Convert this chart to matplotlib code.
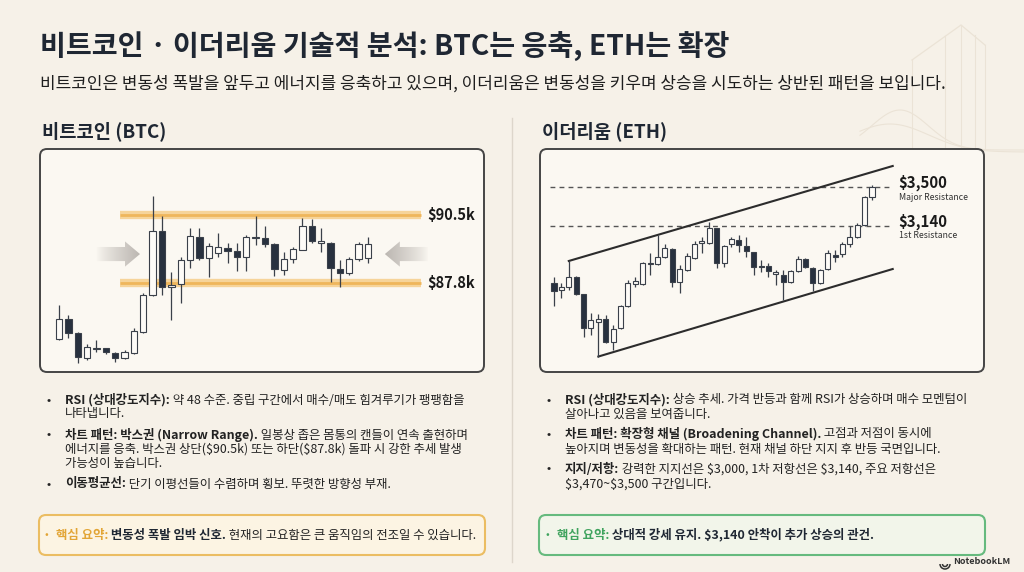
import matplotlib
matplotlib.use("Agg")
import numpy as np
import matplotlib.pyplot as plt
from matplotlib.patches import FancyBboxPatch, Polygon, Arc

FONT = ["Noto Sans CJK KR", "DejaVu Sans"]
plt.rcParams["font.family"] = FONT

W, H = 1024, 572
BG = "#f6f1e8"
PANEL = "#fbf8f2"
INK = "#1f2733"
DARK = "#28313f"
HOLLOW = "#fdfbf7"
EDGE = "#3a404a"
DECO = "#ebe3d6"

# ---- BTC daily candles (price in $k) ----
btc_open = [85.58, 86.37, 85.82, 84.82, 85.18, 85.22, 85.02, 84.82, 85.02, 85.85,
            87.32, 89.86, 87.64, 87.76, 88.71, 89.63, 88.79, 88.99, 89.19, 89.07,
            88.83, 89.59, 89.59, 89.35, 88.32, 88.75, 89.11, 90.06, 89.39, 89.39,
            88.36, 88.20, 88.75, 88.79]
btc_high = [86.93, 86.53, 85.85, 85.38, 85.54, 85.23, 85.06, 85.14, 86.01, 87.40,
            91.25, 90.46, 88.24, 88.83, 89.98, 89.98, 89.39, 89.79, 89.39, 89.39,
            89.71, 90.46, 90.06, 89.37, 89.03, 89.23, 90.38, 90.34, 89.98, 89.41,
            88.71, 88.83, 89.43, 89.63]
btc_low = [85.55, 85.62, 84.62, 84.74, 85.06, 84.98, 84.66, 84.78, 85.00, 85.83,
           87.30, 87.32, 86.33, 87.01, 88.40, 88.71, 88.04, 88.83, 88.59, 88.28,
           88.28, 89.31, 89.23, 88.08, 88.12, 88.59, 89.10, 89.39, 89.03, 87.84,
           87.64, 88.12, 88.67, 88.59]
btc_close = [86.37, 85.82, 84.86, 85.26, 85.22, 85.06, 84.82, 85.06, 85.89, 87.32,
             89.86, 87.64, 87.72, 88.71, 89.67, 88.79, 89.27, 89.23, 89.07, 88.83,
             89.63, 89.63, 89.35, 88.36, 88.75, 89.15, 90.06, 89.47, 89.47, 88.40,
             88.20, 88.75, 89.35, 89.35]
btc_box_top = 90.5
btc_box_bottom = 87.8
btc_box_labels = ["$90.5k", "$87.8k"]

# ---- ETH daily candles (price in $) ----
eth_open = [2614, 2549, 2577, 2669, 2512, 2199, 2254, 2282, 2069, 2199,
            2402, 2605, 2605, 2789, 2789, 2854, 2928, 2623, 2734, 2845,
            2983, 2983, 3122, 2798, 2974, 3011, 2955, 2900, 2771, 2771,
            2697, 2688, 2623, 2725, 2835, 2752, 2614, 2743, 2872, 2882,
            2974, 3038, 3149, 3408]
eth_high = [2669, 2614, 2817, 2678, 2515, 2337, 2328, 2319, 2226, 2411,
            2642, 2669, 2808, 2891, 3057, 2974, 2937, 2780, 2891, 3002,
            3038, 3177, 3125, 2965, 3038, 3057, 3038, 2903, 2826, 2798,
            2734, 2734, 2734, 2863, 2845, 2762, 2743, 2918, 2918, 2992,
            3140, 3168, 3417, 3518]
eth_low = [2402, 2475, 2549, 2503, 2115, 2134, 1931, 2060, 1995, 2189,
           2392, 2577, 2595, 2688, 2780, 2845, 2577, 2522, 2725, 2835,
           2891, 2974, 2752, 2762, 2946, 2900, 2854, 2688, 2715, 2669,
           2595, 2457, 2614, 2715, 2752, 2540, 2605, 2734, 2808, 2854,
           2946, 3029, 3140, 3380]
eth_close = [2540, 2577, 2669, 2512, 2199, 2272, 2282, 2069, 2189, 2402,
             2614, 2632, 2798, 2798, 2854, 2937, 2623, 2743, 2863, 2974,
             3002, 3122, 2798, 2955, 3020, 2965, 2909, 2762, 2762, 2725,
             2715, 2623, 2725, 2835, 2762, 2614, 2734, 2891, 2854, 2974,
             3038, 3149, 3408, 3500]
eth_levels = [3500, 3140]
eth_level_labels = ["$3,500", "$3,140"]
eth_level_notes = ["Major Resistance", "1st Resistance"]
# channel trendlines: (candle index, price)
eth_channel_upper = [(2, 2817), (45.8, 3694)]
eth_channel_lower = [(6, 1935), (45.8, 2743)]

title = "비트코인 · 이더리움 기술적 분석: BTC는 응축, ETH는 확장"
subtitle = ("비트코인은 변동성 폭발을 앞두고 에너지를 응축하고 있으며, "
            "이더리움은 변동성을 키우며 상승을 시도하는 상반된 패턴을 보입니다.")

btc_bullets = [
    [[("RSI (상대강도지수):", "bold"), (" 약 48 수준. 중립 구간에서 매수/매도 힘겨루기가 팽팽함을", "normal")],
     [("나타냅니다.", "normal")]],
    [[("차트 패턴: 박스권 (Narrow Range).", "bold"), (" 일봉상 좁은 몸통의 캔들이 연속 출현하며", "normal")],
     [("에너지를 응축. 박스권 상단($90.5k) 또는 하단($87.8k) 돌파 시 강한 추세 발생", "normal")],
     [("가능성이 높습니다.", "normal")]],
    [[("이동평균선:", "bold"), (" 단기 이평선들이 수렴하며 횡보. 뚜렷한 방향성 부재.", "normal")]],
]
eth_bullets = [
    [[("RSI (상대강도지수):", "bold"), (" 상승 추세. 가격 반등과 함께 RSI가 상승하며 매수 모멘텀이", "normal")],
     [("살아나고 있음을 보여줍니다.", "normal")]],
    [[("차트 패턴: 확장형 채널 (Broadening Channel).", "bold"), (" 고점과 저점이 동시에", "normal")],
     [("높아지며 변동성을 확대하는 패턴. 현재 채널 하단 지지 후 반등 국면입니다.", "normal")]],
    [[("지지/저항:", "bold"), (" 강력한 지지선은 $3,000, 1차 저항선은 $3,140, 주요 저항선은", "normal")],
     [("$3,470~$3,500 구간입니다.", "normal")]],
]
btc_summary = [("핵심 요약:", "bold", "#e2a536"), (" 변동성 폭발 임박 신호.", "bold", INK),
               (" 현재의 고요함은 큰 움직임의 전조일 수 있습니다.", "normal", "#222222")]
eth_summary = [("핵심 요약:", "bold", "#3fa35e"), (" 상대적 강세 유지. $3,140 안착이 추가 상승의 관건.", "bold", INK)]


fig = plt.figure(figsize=(W / 100, H / 100), dpi=100)
fig.patch.set_facecolor(BG)
bg = fig.add_axes([0, 0, 1, 1])
bg.set_xlim(0, W)
bg.set_ylim(H, 0)
bg.axis("off")
renderer = fig.canvas.get_renderer()


def label(x, y, txt, **kw):
    return bg.text(x, y, txt, parse_math=False, ha=kw.pop("ha", "left"), va="center", **kw)


def rich(x, y, parts, size, color="#222222"):
    # draw text runs one after another, each starting where the previous ended
    for part in parts:
        txt, weight = part[0], part[1]
        col = part[2] if len(part) > 2 else color
        t = label(x, y, txt, fontsize=size, fontweight=weight, color=col)
        x += t.get_window_extent(renderer=renderer).width
    return x


def rbox(x0, y0, x1, y1, face, edge, lw):
    bg.add_patch(FancyBboxPatch((x0, y0), x1 - x0, y1 - y0,
                                boxstyle="round,pad=0,rounding_size=7",
                                facecolor=face, edgecolor=edge, linewidth=lw, zorder=1))


def chart_axes(box, xa, ya):
    l, t, r, b = box
    ax = fig.add_axes([l / W, 1 - b / H, (r - l) / W, (b - t) / H])
    ax.set_facecolor("none")
    ax.axis("off")

    def lin(p, a):
        (p0, v0), (p1, v1) = a
        return v0 + (p - p0) * (v1 - v0) / (p1 - p0)

    ax.set_xlim(lin(l, xa), lin(r, xa))
    ax.set_ylim(lin(b, ya), lin(t, ya))
    ax.set_autoscale_on(False)
    return ax


def candles(ax, o, h, l, c, width, min_body, lw=0.8):
    o, h, l, c = map(np.asarray, (o, h, l, c))
    x = np.arange(len(o))
    up = c >= o
    ax.vlines(x, l, h, color=EDGE, lw=0.9, zorder=3)
    body = np.maximum(np.abs(c - o), min_body)
    ax.bar(x, body, bottom=np.minimum(o, c), width=width,
           color=np.where(up, HOLLOW, DARK), edgecolor=EDGE, linewidth=lw, zorder=4)


def grad_arrow(ax, tail, base, tip, y, half_shaft, half_head):
    pts = [(tail, y - half_shaft), (base, y - half_shaft), (base, y - half_head), (tip, y),
           (base, y + half_head), (base, y + half_shaft), (tail, y + half_shaft)]
    poly = Polygon(pts, closed=True, facecolor="none", edgecolor="none")
    ax.add_patch(poly)
    g = np.zeros((2, 64, 4))
    g[..., 0:3] = [0.74, 0.72, 0.70]
    g[..., 3] = np.linspace(0.0, 1.0, 64) ** 0.8
    if tip < tail:
        g = g[:, ::-1]
    im = ax.imshow(g, extent=[min(tail, tip), max(tail, tip), y - half_head, y + half_head],
                   aspect="auto", interpolation="bilinear", zorder=2)
    im.set_clip_path(poly)


# faint background line art (tower + curve) behind the header
bg.plot([912, 961, 985], [60, 25, 45], color=DECO, lw=0.9, zorder=0)
for vx, top in ((912, 60), (945, 36), (961, 25), (975, 35), (985, 45)):
    bg.plot([vx, vx], [top, 150], color=DECO, lw=0.8, zorder=0)
cx = np.linspace(860, 1024, 60)
bg.plot(cx, 150 - 40 * np.exp(-((cx - 900) / 40) ** 2), color=DECO, lw=0.8, zorder=0)
bg.plot(cx, 152 - 28 * np.exp(-((cx - 890) / 55) ** 2), color=DECO, lw=0.8, zorder=0)

# ---- header ----
label(40, 47, title, fontsize=20.3, fontweight="bold", color=INK)
label(40, 84, subtitle, fontsize=12.2, color="#1e1e1e")
bg.plot([512, 512], [118, 562], color="#ddd6cb", lw=1)
label(42, 131, "비트코인 (BTC)", fontsize=13.5, fontweight="bold", color=INK)
label(542, 131, "이더리움 (ETH)", fontsize=13.5, fontweight="bold", color=INK)

# ---- chart panels ----
rbox(40, 149, 484, 372, PANEL, "#454545", 1.4)
rbox(540, 149, 984, 372, PANEL, "#454545", 1.4)

ax1 = chart_axes((41, 150, 483, 371), ((59, 0), (368, 33)), ((283, btc_box_bottom), (215, btc_box_top)))
for lvl, lab in zip([btc_box_top, btc_box_bottom], btc_box_labels):
    ax1.hlines(lvl, 6.5, 38.7, color="#f6d49a", lw=6, zorder=1)
    ax1.hlines(lvl, 6.5, 38.7, color="#efb65c", lw=2, zorder=1)
    ax1.text(39.3, lvl, lab, fontsize=10.5, fontweight="bold", color="#1a1a1a",
             ha="left", va="center", parse_math=False)
candles(ax1, btc_open, btc_high, btc_low, btc_close, 0.68, 0.03)
mid = (btc_box_top + btc_box_bottom) / 2
grad_arrow(ax1, 4.0, 7.05, 8.65, mid - 0.2, 0.28, 0.5)
grad_arrow(ax1, 39.4, 36.4, 34.8, mid - 0.2, 0.28, 0.5)

ax2 = chart_axes((541, 150, 983, 371), ((554, 0), (872, 43)), ((226, eth_levels[1]), (187, eth_levels[0])))
for lvl, lab, note in zip(eth_levels, eth_level_labels, eth_level_notes):
    ax2.hlines(lvl, -0.5, 45.8, color="#555555", lw=1, linestyles=(0, (3.5, 3)), zorder=1)
    ax2.annotate(lab, (46.6, lvl), xytext=(0, 4), textcoords="offset pixels", parse_math=False,
                 fontsize=10.8, fontweight="bold", color="#1a1a1a", ha="left", va="center")
    ax2.annotate(note, (46.6, lvl), xytext=(0, -10), textcoords="offset pixels",
                 fontsize=6.3, color="#333333", ha="left", va="center")
for line in (eth_channel_upper, eth_channel_lower):
    xs, ys = zip(*line)
    ax2.plot(xs, ys, color="#2c2c2c", lw=1.5, zorder=2)
candles(ax2, eth_open, eth_high, eth_low, eth_close, 0.68, 8)

# ---- bullets ----
btc_rows = [[400, 414], [435, 449, 464], [484]]
eth_rows = [[400, 414], [434, 449], [469, 484]]
for col_x, bullets, ys in ((49, btc_bullets, btc_rows), (549, eth_bullets, eth_rows)):
    for bullet, yy in zip(bullets, ys):
        label(col_x, yy[0], "•", fontsize=9, color="#222222", ha="center")
        for parts, y in zip(bullet, yy):
            rich(col_x + 16, y, parts, 8.95)

rbox(39, 515, 485, 555, "#fcf4e3", "#ebbd62", 1.5)
rbox(539, 515, 985, 555, "#f2f5ea", "#66ba7e", 1.5)
label(46, 535, "•", fontsize=8, color="#e2a536", ha="center")
rich(56, 535, btc_summary, 8.95)
label(547, 535, "•", fontsize=8, color="#3fa35e", ha="center")
rich(557, 535, eth_summary, 8.95)

# NotebookLM mark
for r in (2.5, 5):
    bg.add_patch(Arc((945, 564), 2 * r, 2 * r, theta1=0, theta2=180, color="#333333", lw=1.1))
label(1010, 561, "NotebookLM", fontsize=6.5, fontweight="bold", color="#333333", ha="right")

fig.savefig("out.png", dpi=100, facecolor=BG)
